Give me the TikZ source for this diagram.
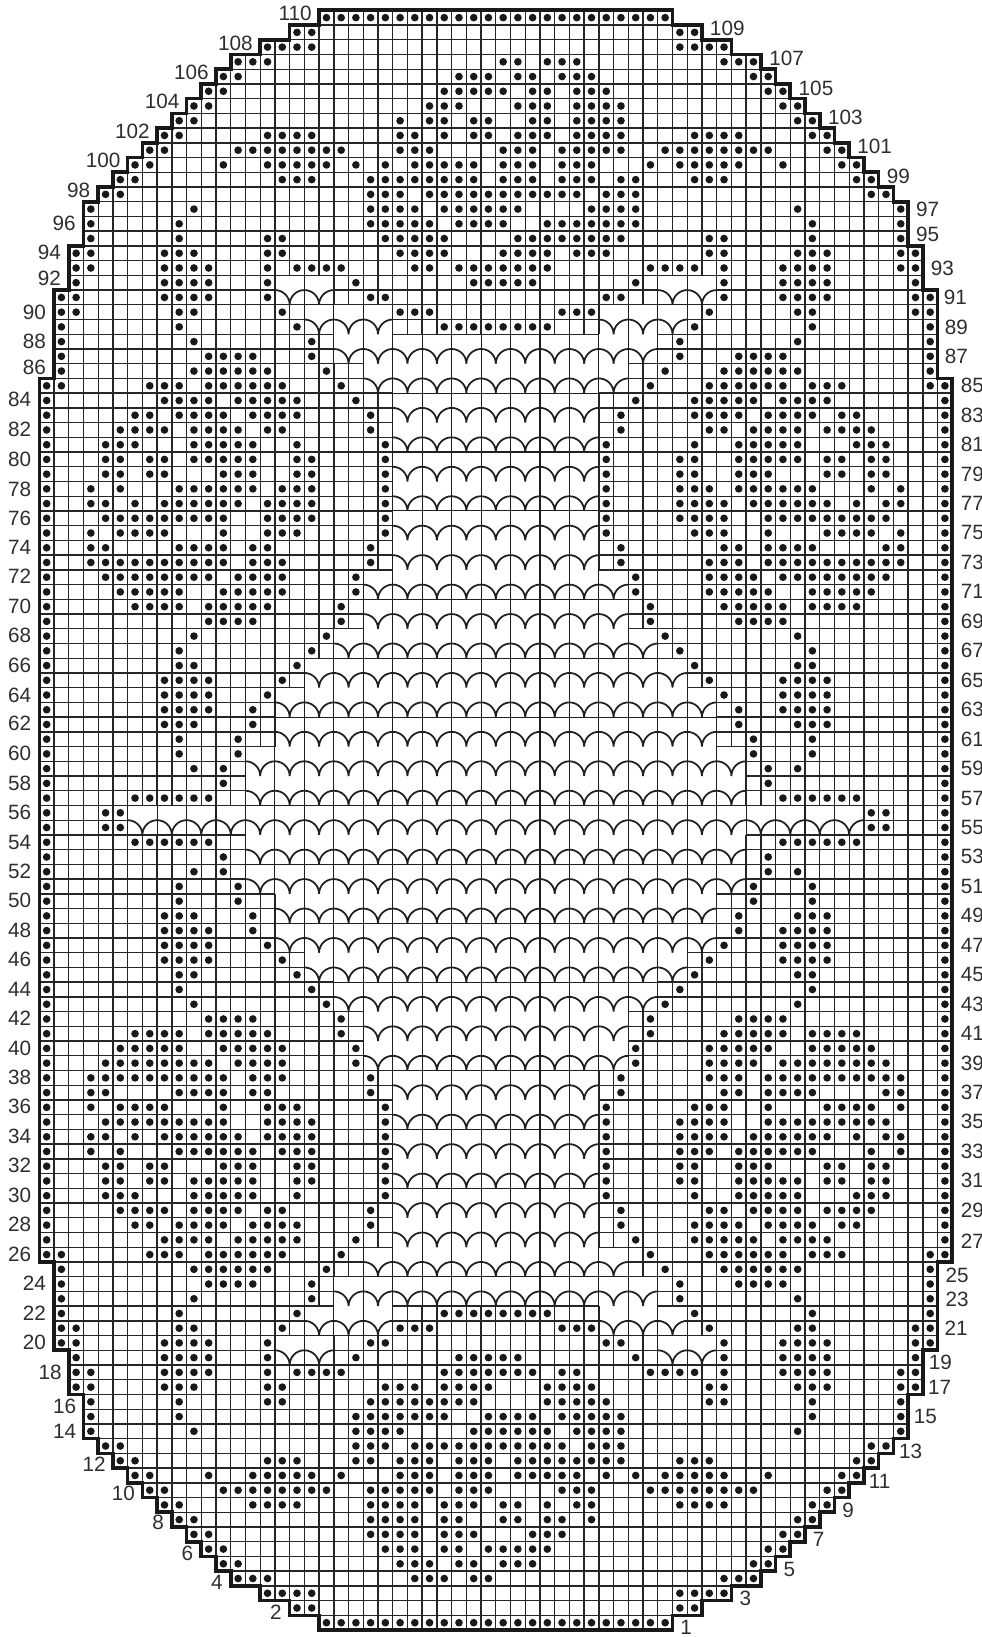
\documentclass[tikz,border=0pt]{standalone}
\usepackage{fontspec}
\setmainfont{Liberation Sans}

\begin{document}
\begin{tikzpicture}[x=0.4cm,y=0.4cm,cellgrid/.style={step=1,line width=1.05pt,black!85},openline/.style={line width=0.85pt,black!88},lace/.style={line width=1.35pt,black!88},outline/.style={line width=2.8pt,black!90,line join=miter},stitch/.style={fill=black!90},rownum/.style={font=\fontsize{16}{16}\selectfont,text=black!82,inner sep=0pt}]
\useasboundingbox (-2.67,-0.47) rectangle (63.97,110.70);
\foreach \rt/\rb/\lo/\cut in {110/110/19/31,109/109/17/31,108/108/15/31,107/107/13/31,106/106/12/31,105/105/11/31,104/104/10/31,103/103/9/31,102/102/8/31,101/101/7/31,100/100/6/31,99/99/5/31,98/98/4/31,97/95/3/31,94/93/2/31,92/92/2/16,91/91/1/16,90/89/1/18,88/87/1/20,86/86/1/22,85/85/0/22,84/73/0/24,72/69/0/22,68/67/0/20,66/65/0/18,64/61/0/16,60/57/0/14,56/55/0/6,54/51/0/14,50/47/0/16,46/45/0/18,44/43/0/20,42/39/0/22,38/27/0/24,26/26/0/22,25/25/1/22,24/23/1/20,22/21/1/18,20/20/1/16,19/19/2/16,18/17/2/31,16/14/3/31,13/13/4/31,12/12/5/31,11/11/6/31,10/10/7/31,9/9/8/31,8/8/9/31,7/7/10/31,6/6/11/31,5/5/12/31,4/4/13/31,3/3/15/31,2/2/17/31,1/1/19/31} {\draw[cellgrid] (\lo,\rb-1) grid (\cut,\rt);\draw[cellgrid] ({62-\cut},\rb-1) grid ({62-\lo},\rt);}
\foreach \rt/\rb/\a/\b in {92/91/20/42,90/89/24/38,22/21/24/38,20/19/20/42} {\draw[cellgrid] (\a,\rb-1) grid (\b,\rt);}
\foreach \rw/\a/\b in {91/16/20,91/42/46,89/18/24,89/38/44,87/20/42,85/22/40,83/24/38,81/24/38,79/24/38,77/24/38,75/24/38,73/24/38,71/22/40,69/22/40,67/20/42,65/18/44,63/16/46,61/16/46,59/14/48,57/14/48,55/6/56,53/14/48,51/14/48,49/16/46,47/16/46,45/18/44,43/20/42,41/22/40,39/22/40,37/24/38,35/24/38,33/24/38,31/24/38,29/24/38,27/24/38,25/22/40,23/20/42,21/18/24,21/38/44,19/16/20,19/42/46} {\pgfmathtruncatemacro{\nxt}{\a+2}\pgfmathtruncatemacro{\lst}{\b-2}\foreach \e in {\a,\nxt,...,\lst} {\draw[openline] (\e,\rw-1) -- (\e,\rw+1);\draw[lace] (\e,\rw) arc (90:0:1) (\e+2,\rw) arc (90:180:1);}}
\foreach \yy/\a in {84/24,80/24,76/24,70/22,66/20,62/16,56/14,52/14,48/16,44/20,38/24,34/24,30/24,24/22} {\draw[openline] (\a,\yy) -- ({62-\a},\yy);}
\foreach \yy in {90,20} {\draw[openline] (18,\yy) -- (20,\yy) (42,\yy) -- (44,\yy);}
\foreach \rw/\spans in {110/{19/42},109/{17/18,43/44},108/{15/18,43/46},107/{13/15,31/32,34/36,46/48},106/{12/13,28/30,32/33,35/37,48/49},105/{11/12,27/31,33/34,36/38,49/50},104/{10/11,26/28,32/34,36/39,50/51},103/{9/10,24,26/27,29/30,33/34,36/39,51/52},102/{8/9,15/18,24/25,27,29/30,32/34,36/39,44/47,52/53},101/{7/8,13/20,24/26,31/33,35/39,42/49,53/54},100/{6/7,12,15/19,21,23,25/29,31/33,35/37,41,43/47,50,54/55},99/{5/6,16/18,22/29,31/33,35/37,39/40,44/46,55/56},98/{4/5,22/24,26/36,38/40,56/57},97/{3,10,22/25,27/32,37/40,51,58},96/{3,9,22/26,28/31,34/40,52,58},95/{3,9,15/16,23/27,32/39,45/46,52,58},94/{2/3,8/10,15/16,24/27,31/34,36/38,45/46,51/53,58/59},93/{2/3,8/11,15,17/20,25/26,28/34,41/44,46,50/53,58/59},92/{2,8/11,15,21,29/33,40,46,50/53,59},91/{1/2,8/11,15,22/23,38/39,46,50/53,59/60},90/{1/2,9/10,16,24/26,35/37,45,51/52,59/60},89/{1,9,17,27/34,44,52,60},88/{1,10,18,43,51,60},87/{1,11/14,18,43,47/50,60},86/{1,10/15,19,42,46/51,60},85/{0/1,7/9,11/16,20,41,45/50,52/54,60/61},84/{0,8/11,13/17,21,40,44/48,50/53,61},83/{0,6/7,9/12,14/17,22,39,44/47,49/52,54/55,61},82/{0,5/8,10/13,15/16,22,39,45/46,48/51,53/56,61},81/{0,4/6,10/14,17,23,38,44,47/51,55/57,61},80/{0,4/5,7/8,10/14,17/18,23,38,43/44,47/51,53/54,56/57,61},79/{0,4/5,7/8,12/14,17/18,23,38,43/44,47/49,53/54,56/57,61},78/{0,3,5,9/14,16/18,23,38,43/45,47/52,56,58,61},77/{0,3/4,6,8/13,15/18,23,38,43/46,48/53,55,57/58,61},76/{0,4/12,15/18,23,38,43/46,49/57,61},75/{0,3,5/8,12,15/17,23,38,44/46,49,53/56,58,61},74/{0,3/4,9/12,14/15,22,39,46/47,49/52,57/58,61},73/{0,3/12,14/16,22,39,45/47,49/58,61},72/{0,4/11,13/16,21,40,45/48,50/57,61},71/{0,5/9,12/16,21,40,45/49,52/56,61},70/{0,6/9,11/15,20,41,46/50,52/55,61},69/{0,11/14,20,41,47/50,61},68/{0,10,19,42,51,61},67/{0,9,18,43,52,61},66/{0,9/10,17,44,51/52,61},65/{0,8/11,16,45,50/53,61},64/{0,8/11,15,46,50/53,61},63/{0,8/11,14,47,50/53,61},62/{0,8/10,14,47,51/53,61},61/{0,9,13,48,52,61},60/{0,9,13,48,52,61},59/{0,10,12,49,51,61},58/{0,12,49,61},57/{0,6/11,50/55,61},56/{0,4/5,56/57,61},55/{0,4/5,56/57,61},54/{0,6/11,50/55,61},53/{0,12,49,61},52/{0,10,12,49,51,61},51/{0,9,13,48,52,61},50/{0,9,13,48,52,61},49/{0,8/10,14,47,51/53,61},48/{0,8/11,14,47,50/53,61},47/{0,8/11,15,46,50/53,61},46/{0,8/11,16,45,50/53,61},45/{0,9/10,17,44,51/52,61},44/{0,9,18,43,52,61},43/{0,10,19,42,51,61},42/{0,11/14,20,41,47/50,61},41/{0,6/9,11/15,20,41,46/50,52/55,61},40/{0,5/9,12/16,21,40,45/49,52/56,61},39/{0,4/11,13/16,21,40,45/48,50/57,61},38/{0,3/12,14/16,22,39,45/47,49/58,61},37/{0,3/4,9/12,14/15,22,39,46/47,49/52,57/58,61},36/{0,3,5/8,12,15/17,23,38,44/46,49,53/56,58,61},35/{0,4/12,15/18,23,38,43/46,49/57,61},34/{0,3/4,6,8/13,15/18,23,38,43/46,48/53,55,57/58,61},33/{0,3,5,9/14,16/18,23,38,43/45,47/52,56,58,61},32/{0,4/5,7/8,12/14,17/18,23,38,43/44,47/49,53/54,56/57,61},31/{0,4/5,7/8,10/14,17/18,23,38,43/44,47/51,53/54,56/57,61},30/{0,4/6,10/14,17,23,38,44,47/51,55/57,61},29/{0,5/8,10/13,15/16,22,39,45/46,48/51,53/56,61},28/{0,6/7,9/12,14/17,22,39,44/47,49/52,54/55,61},27/{0,8/11,13/17,21,40,44/48,50/53,61},26/{0/1,7/9,11/16,20,41,45/50,52/54,60/61},25/{1,10/15,19,42,46/51,60},24/{1,11/14,18,43,47/50,60},23/{1,10,18,43,51,60},22/{1,9,17,27/34,44,52,60},21/{1/2,9/10,16,24/26,35/37,45,51/52,59/60},20/{1/2,8/11,15,22/23,38/39,46,50/53,59/60},19/{2,8/11,15,21,28/32,40,46,50/53,59},18/{2/3,8/11,15,17/20,27/33,35/36,41/44,46,50/53,58/59},17/{2/3,8/10,15/16,23/25,27/30,34/37,45/46,51/53,58/59},16/{3,9,15/16,22/29,34/38,45/46,52,58},15/{3,9,21/27,30/33,35/39,52,58},14/{3,10,21/24,29/34,36/39,51,58},13/{4/5,21/23,25/35,37/39,56/57},12/{5/6,15/17,21/22,24/26,28/30,32/39,43/45,55/56},11/{6/7,11,14/18,20,24/26,28/30,32/36,38,40,42/46,49,54/55},10/{7/8,12/19,22/26,28/30,35/37,41/48,53/54},9/{8/9,14/17,22/25,27/29,31/32,34,36/37,43/46,52/53},8/{9/10,22/25,27/28,31/32,34/35,37,51/52},7/{10/11,22/25,27/29,33/35,50/51},6/{11/12,23/25,27/28,30/34,49/50},5/{12/13,24/26,28/29,31/33,48/49},4/{13/15,25/27,29/30,46/48},3/{15/18,43/46},2/{17/18,43/44},1/{19/42}} {\foreach \cfrom/\cto in \spans {\foreach \c in {\cfrom,...,\cto} {\fill[stitch] (\c+.5,\rw-.5) circle (.26);}}}
\draw[outline] (19,110) |- (17,109) |- (15,108) |- (13,107) |- (12,106) |- (11,105) |- (10,104) |- (9,103) |- (8,102) |- (7,101) |- (6,100) |- (5,99) |- (4,98) |- (3,97) |- (2,94) |- (1,91) |- (0,85) |- (1,25) |- (2,19) |- (3,16) |- (4,13) |- (5,12) |- (6,11) |- (7,10) |- (8,9) |- (9,8) |- (10,7) |- (11,6) |- (12,5) |- (13,4) |- (15,3) |- (17,2) |- (19,1) |- (43,0) |- (45,1) |- (47,2) |- (49,3) |- (50,4) |- (51,5) |- (52,6) |- (53,7) |- (54,8) |- (55,9) |- (56,10) |- (57,11) |- (58,12) |- (59,13) |- (60,16) |- (61,19) |- (62,25) |- (61,85) |- (60,91) |- (59,94) |- (58,97) |- (57,98) |- (56,99) |- (55,100) |- (54,101) |- (53,102) |- (52,103) |- (51,104) |- (50,105) |- (49,106) |- (47,107) |- (45,108) |- (43,109) |- cycle;
\foreach \n/\px/\py in {110/295/14.3,108/235.3/44.3,106/191.3/73,104/162/102.3,102/132.3/132,100/103/161.3,98/78.7/191.3,96/64/224,94/49.3/253.3,92/49.3/279.3,90/34.3/312.7,88/34.3/341.7,86/34.3/368.3,84/19.7/400,82/19.7/430,80/19.7/459.7,78/19.7/489.3,76/19.7/518.3,74/19.7/547.3,72/19.7/577,70/19.7/606.3,68/19.7/636,66/19.7/665.3,64/19.7/695.3,62/19.7/724,60/19.7/754,58/19.7/783.3,56/19.7/812.3,54/19.7/842.3,52/19.7/871.7,50/19.7/901,48/19.7/930.3,46/19.7/960,44/19.7/989.3,42/19.7/1018.3,40/19.7/1048.3,38/19.7/1077.7,36/19.7/1107,34/19.7/1136.3,32/19.7/1166,30/19.7/1195.3,28/19.7/1224.3,26/19.7/1254.3,24/34.3/1283.7,22/34.3/1313,20/34.3/1342.3,18/50/1372.3,16/64.7/1406.3,14/64.7/1431,12/94/1464,10/123.3/1493.7,8/158/1522.3,6/187.3/1553,4/216.7/1582.7,2/275.7/1612,109/727/29.3,107/786.3/59.3,105/815.7/88.7,103/845/118,101/874.3/147.3,99/898/177.3,97/927.3/210,95/927.3/235.3,93/942/269.3,91/955/298.3,89/956/328.3,87/956/357.3,85/972/386,83/972/415.3,81/972/444.7,79/972/474.7,77/972/504,75/972/533.3,73/972/562.7,71/972/592,69/972/621.7,67/972/651,65/972/680.3,63/972/710,61/972/739.3,59/972/768.7,57/972/798.3,55/972/827.7,53/972/857,51/972/886.7,49/972/916,47/972/945.3,45/972/975,43/972/1004.3,41/972/1033.7,39/972/1063.3,37/972/1092.7,35/972/1122,33/972/1151.7,31/972/1181,29/972/1210.3,27/972/1241,25/956.7/1275,23/956.7/1299,21/955.7/1328,19/940/1362.7,17/939.3/1387,15/925/1417,13/910.3/1451,11/879.3/1481,9/847.7/1510.3,7/818.3/1539,5/789/1569,3/745/1598,1/686/1627.7} {\node[rownum] (row\n) at ({(\px-39.3)/14.72},{(1630.06-\py)/14.72}) {\n};}
\end{tikzpicture}
\end{document}
